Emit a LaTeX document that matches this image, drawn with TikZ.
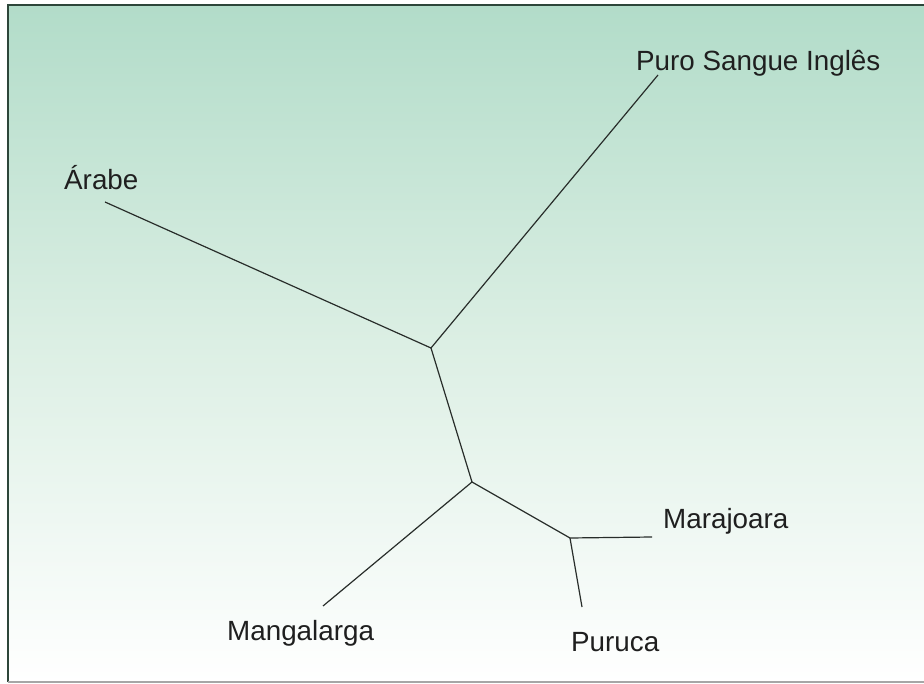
\documentclass[tikz,border=0pt]{standalone}
\usepackage{fontspec}
\setmainfont{Liberation Sans}
\definecolor{bgtop}{RGB}{178,220,201}
\definecolor{bgmid}{RGB}{220,239,228}
\definecolor{bgbot}{RGB}{255,255,255}
\definecolor{framec}{RGB}{45,70,58}
\definecolor{edgec}{RGB}{40,45,42}
\tikzset{
  branch/.style={draw=edgec, line width=1.2pt},
  lbl/.style={font=\fontsize{27.8}{31}\selectfont, text=black!88, inner sep=0pt},
}
\begin{document}
\begin{tikzpicture}[x=1pt,y=-1pt]
\useasboundingbox (0,0) rectangle (924,684);
\fill[white] (0,0) rectangle (924,684);
\shade[top color=bgtop, bottom color=bgbot, middle color=bgmid] (8,5) rectangle (924,682);
\draw[framec, line width=1.6pt] (8,682) -- (8,5) -- (924,5);
\draw[gray!70, line width=1.5pt] (8,682) -- (924,682);
% inner nodes
\coordinate (r) at (431,348);
\coordinate (b) at (472,482);
\coordinate (c) at (570,538);
% leaf ends
\coordinate (puro) at (658,75);
\coordinate (arabe) at (105,202);
\coordinate (manga) at (323,606);
\coordinate (mara) at (652,537);
\coordinate (puru) at (582,607);
\draw[branch] (puro) -- (r) -- (arabe);
\draw[branch] (r) -- (b) -- (manga);
\draw[branch] (b) -- (c) -- (mara);
\draw[branch] (c) -- (puru);
% labels
\node[lbl, anchor=west] (lpuro) at (636,63) {Puro Sangue Inglês};
\node[lbl, anchor=west] (larabe) at (64,178) {Árabe};
\node[lbl, anchor=west] (lmara) at (663,521) {Marajoara};
\node[lbl, anchor=west] (lpuru) at (571,642) {Puruca};
\node[lbl, anchor=west] (lmanga) at (227,633) {Mangalarga};
\end{tikzpicture}
\end{document}
